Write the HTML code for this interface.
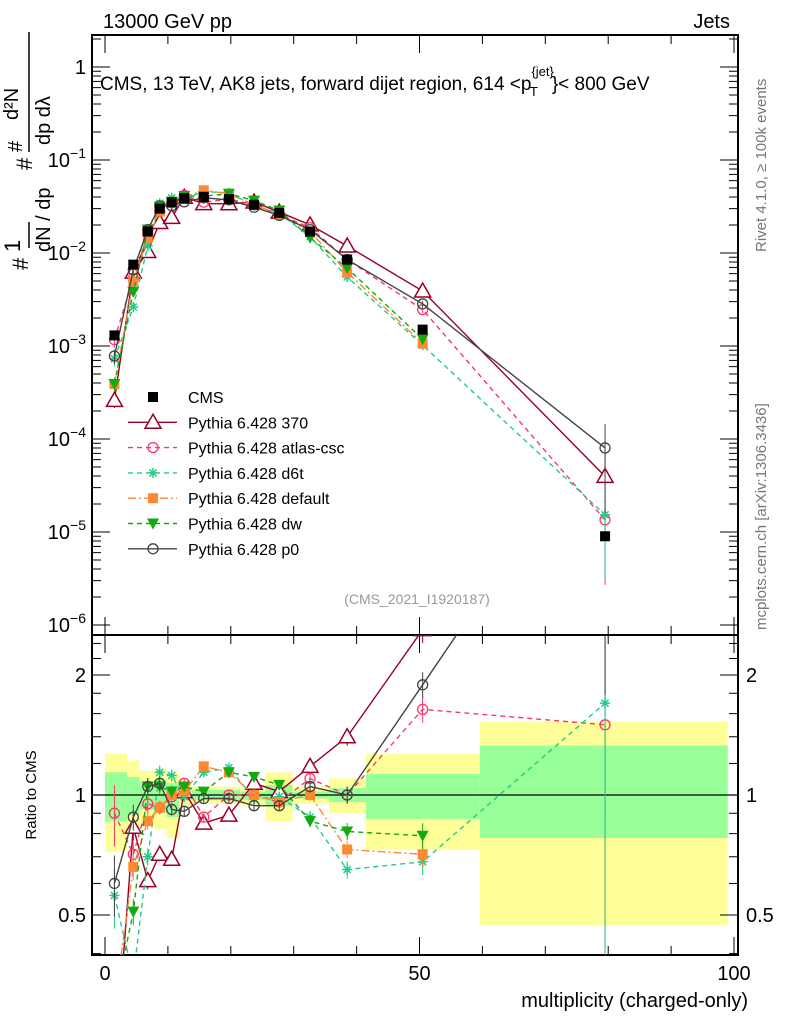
<!DOCTYPE html>
<html><head><meta charset="utf-8"><style>
html,body{margin:0;background:#fff;overflow:hidden;width:786px;height:1024px;}
svg{font-family:"Liberation Sans",sans-serif;display:block;}
</style></head><body>
<svg id="c" width="786" height="1024" xmlns="http://www.w3.org/2000/svg"></svg>
<script>
const xs=[1.5,4.5,6.8,8.7,10.6,12.6,15.7,19.7,23.7,27.7,32.6,38.5,50.5,79.5];
const edges=[0,3.5,5.5,7.8,9.8,11.8,13.8,17.5,21.5,25.5,29.8,35.6,41.5,59.6,99];
const cms=[1.3e-3,7.5e-3,1.7e-2,3.0e-2,3.5e-2,3.9e-2,4.0e-2,3.8e-2,3.3e-2,2.7e-2,1.7e-2,8.5e-3,1.5e-3,9e-6];
const yUp=[1.27,1.22,1.15,1.16,1.13,1.06,1.05,1.05,1.04,1.14,1.05,1.10,1.27,1.53];
const yLo=[0.72,0.80,0.85,0.82,0.78,0.94,0.95,0.95,0.94,0.86,0.95,0.90,0.73,0.47];
const gUp=[1.14,1.11,1.08,1.09,1.07,1.03,1.03,1.03,1.02,1.06,1.02,1.04,1.13,1.33];
const gLo=[0.86,0.89,0.92,0.90,0.88,0.97,0.97,0.97,0.97,0.94,0.98,0.96,0.87,0.78];
const r370=[0.2,0.83,0.61,0.71,0.69,1.02,0.85,0.89,1.07,1.02,1.18,1.40,2.6,4.4];
const rAtlas=[0.90,0.71,0.95,0.93,0.99,1.07,0.88,1.0,1.0,0.96,1.10,1.0,1.64,1.50];
const rD6t=[0.56,0.35,0.70,1.14,1.12,0.99,1.14,1.17,0.98,0.99,0.88,0.65,0.68,1.70];
const rDef=[0.3,0.66,0.86,0.93,1.0,1.02,1.18,1.14,1.0,0.96,1.0,0.73,0.71,null];
const rDw=[0.3,0.51,1.05,1.05,1.02,1.05,1.02,1.14,1.11,1.06,0.86,0.81,0.79,null];
const rP0=[0.6,0.88,1.05,1.07,0.92,0.91,0.98,0.98,0.94,0.94,1.05,1.0,1.89,8.9];
const relErr=[0.35,0.15,0.1,0.08,0.07,0.05,0.05,0.05,0.05,0.05,0.07,0.1,0.15,1.6];

const S=document.getElementById('c');const NS='http://www.w3.org/2000/svg';
function el(t,a,p){const e=document.createElementNS(NS,t);for(const k in a)e.setAttribute(k,a[k]);(p||S).appendChild(e);return e;}
const L=92,R=738,MT=35,MB=635,RB=955;
const X=v=>105+6.29*v;
const Y=v=>625-93*(Math.log10(v)+6);
const RY=v=>795-120*Math.log2(v);
const defs=el('defs',{});
const c1=el('clipPath',{id:'cm'},defs);el('rect',{x:L,y:MT,width:R-L,height:MB-MT},c1);
const c2=el('clipPath',{id:'cr'},defs);el('rect',{x:L,y:MB,width:R-L,height:RB-MB},c2);
const gb=el('g',{'clip-path':'url(#cr)'});

for(let i=0;i<xs.length;i++){
 const x0=X(edges[i]),x1=X(edges[i+1]);
 const yb=el('rect',{x:x0,y:RY(yUp[i]),width:x1-x0,height:RY(yLo[i])-RY(yUp[i]),fill:'#ffff99'},gb);
 
 const gg=el('rect',{x:x0,y:RY(gUp[i]),width:x1-x0,height:RY(gLo[i])-RY(gUp[i]),fill:'#99ff99'},gb);
 
}
el('line',{x1:L,x2:R,y1:RY(1),y2:RY(1),stroke:'#000','stroke-width':1.3});
const f1=el('rect',{x:L,y:MT,width:R-L,height:MB-MT,fill:'none',stroke:'#000','stroke-width':2});

const f2=el('rect',{x:L,y:MB,width:R-L,height:RB-MB,fill:'none',stroke:'#000','stroke-width':2});

for(let d=-6;d<=0;d++){
 for(let m=1;m<10;m++){const v=m*Math.pow(10,d);const y=Y(v);if(y<MT||y>MB)continue;
  const len=m==1?18:9;el('line',{x1:L,x2:L+len,y1:y,y2:y,stroke:'#000'});el('line',{x1:R,x2:R-len,y1:y,y2:y,stroke:'#000'});}
 const t=el('text',{x:86,y:Y(Math.pow(10,d))+7,'text-anchor':'end','font-size':20});
 if(d==0)t.textContent='1';else{t.textContent='10';const s=el('tspan',{dy:-9,'font-size':14},t);s.textContent='−'+(-d);}
 
}
[0.4,0.5,0.6,0.7,0.8,0.9,1,1.2,1.4,1.6,1.8,2,2.2,2.4].forEach(v=>{const y=RY(v);const big=(v==0.5||v==1||v==2);const len=big?18:9;
 el('line',{x1:L,x2:L+len,y1:y,y2:y,stroke:'#000'});el('line',{x1:R,x2:R-len,y1:y,y2:y,stroke:'#000'});});
[['2',2],['1',1],['0.5',0.5]].forEach(([s,v])=>{
 const a=el('text',{x:86,y:RY(v)+7,'text-anchor':'end','font-size':20});a.textContent=s;
 
 const b=el('text',{x:746,y:RY(v)+7,'font-size':20});b.textContent=s;
 });
for(let v=0;v<=100;v+=10){const big=v%50==0;const len=big?18:9;
 el('line',{x1:X(v),x2:X(v),y1:RB,y2:RB-len,stroke:'#000'});el('line',{x1:X(v),x2:X(v),y1:MB,y2:MB-len,stroke:'#000'});
 el('line',{x1:X(v),x2:X(v),y1:MT,y2:MT+len,stroke:'#000'});el('line',{x1:X(v),x2:X(v),y1:MB,y2:MB+len,stroke:'#000'});
 if(big){const t=el('text',{x:X(v),y:980,'text-anchor':'middle','font-size':20});t.textContent=v;
 }}
function marker(g,type,x,y,col){
 if(type=='sq')el('rect',{x:x-5,y:y-5,width:10,height:10,fill:col},g);
 else if(type=='tri')el('polygon',{points:`${x},${y-8} ${x-8},${y+6} ${x+8},${y+6}`,fill:'#fff',stroke:col,'stroke-width':1.5},g);
 else if(type=='ocirc')el('circle',{cx:x,cy:y,r:5,fill:'none',stroke:col,'stroke-width':1.3},g);
 else if(type=='star'){for(let a=0;a<4;a++){const an=a*Math.PI/4;el('line',{x1:x-5*Math.cos(an),y1:y-5*Math.sin(an),x2:x+5*Math.cos(an),y2:y+5*Math.sin(an),stroke:col,'stroke-width':1.5},g);}}
 else if(type=='tdn')el('polygon',{points:`${x-6},${y-5} ${x+6},${y-5} ${x},${y+6}`,fill:col},g);
}
const series=[
 {n:'Pythia 6.428 370',r:r370,c:'#990022',m:'tri',d:'',nm:'series-370'},
 {n:'Pythia 6.428 atlas-csc',r:rAtlas,c:'#ff3366',m:'ocirc',d:'5,4',nm:'series-atlas-csc'},
 {n:'Pythia 6.428 d6t',r:rD6t,c:'#22cc88',m:'star',d:'5,4',nm:'series-d6t'},
 {n:'Pythia 6.428 default',r:rDef,c:'#ff8833',m:'sq',d:'8,3,2,3',nm:'series-default'},
 {n:'Pythia 6.428 dw',r:rDw,c:'#11aa11',m:'tdn',d:'5,4',nm:'series-dw'},
 {n:'Pythia 6.428 p0',r:rP0,c:'#444444',m:'ocirc',d:'',nm:'series-p0'}];
series.forEach(s=>{
 const idx=s.r.map((r,i)=>i).filter(i=>s.r[i]!=null);
 const g=el('g',{'clip-path':'url(#cm)'});
 el('polyline',{points:idx.map(i=>X(xs[i])+','+Y(s.r[i]*cms[i])).join(' '),fill:'none',stroke:s.c,'stroke-width':1.4,'stroke-dasharray':s.d},g);
 idx.forEach(i=>{const v=s.r[i]*cms[i];const e=Math.min(relErr[i]*0.5,0.9);el('line',{x1:X(xs[i]),x2:X(xs[i]),y1:Y(v*(1+e)),y2:Y(v*(1-e)),stroke:s.c},g);marker(g,s.m,X(xs[i]),Y(v),s.c);});
 const g2=el('g',{'clip-path':'url(#cr)'});
 el('polyline',{points:idx.map(i=>X(xs[i])+','+RY(s.r[i])).join(' '),fill:'none',stroke:s.c,'stroke-width':1.4,'stroke-dasharray':s.d},g2);
 idx.forEach(i=>{const r=s.r[i];const e=Math.min(relErr[i]*0.5,0.95);el('line',{x1:X(xs[i]),x2:X(xs[i]),y1:RY(r*(1+e)),y2:RY(r*(1-e)),stroke:s.c},g2);marker(g2,s.m,X(xs[i]),RY(r),s.c);});
});
const gc=el('g',{'clip-path':'url(#cm)'});
cms.forEach((v,i)=>marker(gc,'sq',X(xs[i]),Y(v),'#000'));
const leg=[{n:'CMS',c:'#000',m:'sq',d:'',line:false}].concat(series.map(s=>({n:s.n,c:s.c,m:s.m,d:s.d,line:true})));
leg.forEach((l,i)=>{const y=397+25.3*i;const g=el('g',{});
 if(l.line)el('line',{x1:128,x2:177,y1:y,y2:y,stroke:l.c,'stroke-width':1.4,'stroke-dasharray':l.d},g);
 marker(g,l.m,153,y,l.c);const t=el('text',{x:188,y:y+6,'font-size':16},g);t.textContent=l.n;});
function txt(s,a,nm){const t=el('text',a);t.textContent=s;return t;}
txt('13000 GeV pp',{x:103,y:28,'font-size':20},'energy-label');
txt('Jets',{x:730,y:28,'font-size':20,'text-anchor':'end'},'process-label');
const tt=txt('CMS, 13 TeV, AK8 jets, forward dijet region, 614 <p',{x:100,y:90,'font-size':19},'plot-title');
const s1=el('tspan',{dx:0,dy:-14,'font-size':13},tt);s1.textContent='{jet}';
const s2=el('tspan',{dx:-24,dy:20,'font-size':13},tt);s2.textContent='T';
const s3=el('tspan',{dx:14,dy:-6,'font-size':19},tt);s3.textContent='}< 800 GeV';
txt('(CMS_2021_I1920187)',{x:417,y:604,'font-size':14,'text-anchor':'middle',fill:'#999'},'analysis-id');
txt('Rivet 4.1.0, ≥ 100k events',{x:0,y:0,'font-size':15,fill:'#777',transform:'translate(766,252) rotate(-90)'},'rivet-label');
txt('mcplots.cern.ch [arXiv:1306.3436]',{x:0,y:0,'font-size':15,fill:'#777',transform:'translate(766,630) rotate(-90)'},'mcplots-label');
txt('multiplicity (charged-only)',{x:748,y:1007,'font-size':20,'text-anchor':'end'},'x-axis-title');
txt('Ratio to CMS',{x:0,y:0,'font-size':15,'text-anchor':'middle',transform:'translate(36,795) rotate(-90)'},'ratio-axis-title');
const ya=el('g',{transform:'translate(28,270) rotate(-90)'});
const y1=el('text',{x:0,y:0,'font-size':22},ya);y1.textContent='#';
const y2=el('text',{x:18,y:-8,'font-size':22},ya);y2.textContent='1';
el('line',{x1:22,x2:48,y1:1,y2:1,stroke:'#000','stroke-width':1.5},ya);
const y3=el('text',{x:18,y:22,'font-size':20},ya);y3.textContent='dN / dp';
const y4=el('text',{x:100,y:4,'font-size':22},ya);y4.textContent='#';
const y5=el('text',{x:118,y:-6,'font-size':20},ya);y5.textContent='#';
el('line',{x1:118,x2:238,y1:1,y2:1,stroke:'#000','stroke-width':1.5},ya);
const y6=el('text',{x:150,y:-10,'font-size':20},ya);y6.textContent='d²N';
const y7=el('text',{x:125,y:22,'font-size':20},ya);y7.textContent='dp  dλ';
</script>
</body></html>
